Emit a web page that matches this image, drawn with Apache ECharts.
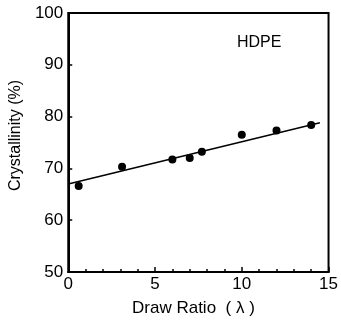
<!DOCTYPE html>
<html lang="en">
<head>
    <meta charset="UTF-8">
    <title>HDPE crystallinity</title>
    <script src="https://cdn.jsdelivr.net/npm/echarts@6/dist/echarts.min.js"></script>
    <style>
        body { margin: 0; background: #fff; }
    </style>
</head>
<body>
    <div id="main" style="width: 341px;height: 322px"></div>
    <script type="text/javascript">
        // measured points
        var drawRatio = [0.6, 3.1, 6.0, 7.0, 7.7, 10.0, 12.0, 14.0];
        var crystallinity = [66.6, 70.3, 71.7, 72.0, 73.2, 76.5, 77.3, 78.4];

        // fitted line end points
        var fitX = [0, 14.5];
        var fitY = [67.0, 78.8];

        var xTicks = [0, 5, 10, 15];
        var yTicks = [50, 60, 70, 80, 90, 100];

        var points = drawRatio.map(function (x, i) { return [x, crystallinity[i]]; });
        var fit = fitX.map(function (x, i) { return [x, fitY[i]]; });

        var font = 'Liberation Sans';

        option = {
            animation: false,
            grid: {
                left: 58,
                right: 8,
                top: 13,
                bottom: 45,
                show: true,
                borderColor: '#000',
                borderWidth: 2
            },
            xAxis: {
                type: 'value',
                min: xTicks[0],
                max: xTicks[xTicks.length - 1],
                interval: 5,
                name: 'Draw Ratio  ( λ )',
                nameLocation: 'middle',
                nameGap: 28,
                nameTextStyle: { color: '#000', fontSize: 17, fontFamily: font, padding: [0, 10, 0, 0] },
                axisLine: { lineStyle: { color: '#000', width: 2 } },
                axisTick: { inside: true, length: 5, lineStyle: { color: '#000', width: 1.5 } },
                minorTick: { show: true, splitNumber: 5, length: 3, lineStyle: { color: '#000', width: 1.5 } },
                axisLabel: { color: '#000', fontSize: 17, fontFamily: font, margin: 4 },
                splitLine: { show: false }
            },
            yAxis: {
                type: 'value',
                min: yTicks[0],
                max: yTicks[yTicks.length - 1],
                interval: 10,
                name: 'Crystallinity (%)',
                nameLocation: 'middle',
                nameGap: 40,
                nameTextStyle: { color: '#000', fontSize: 16, fontFamily: font, padding: [0, 0, 0, 14] },
                axisLine: { lineStyle: { color: '#000', width: 2 } },
                axisTick: { inside: true, length: 4, lineStyle: { color: '#000', width: 1.5 } },
                axisLabel: { color: '#000', fontSize: 17, fontFamily: font, margin: 5 },
                splitLine: { show: false }
            },
            series: [
                {
                    name: 'fit',
                    type: 'line',
                    data: fit,
                    symbol: 'none',
                    lineStyle: { color: '#000', width: 1.5 }
                },
                {
                    name: 'HDPE',
                    type: 'scatter',
                    data: points,
                    symbolSize: 8,
                    itemStyle: { color: '#000', opacity: 1 }
                }
            ],
            graphic: [
                {
                    type: 'text',
                    left: 237,
                    top: 35,
                    style: { text: 'HDPE', fill: '#000', fontSize: 16, fontFamily: font }
                }
            ]
        };

        var myChart = echarts.init(document.getElementById('main'));
        myChart.setOption(option);
    </script>
</body>
</html>
